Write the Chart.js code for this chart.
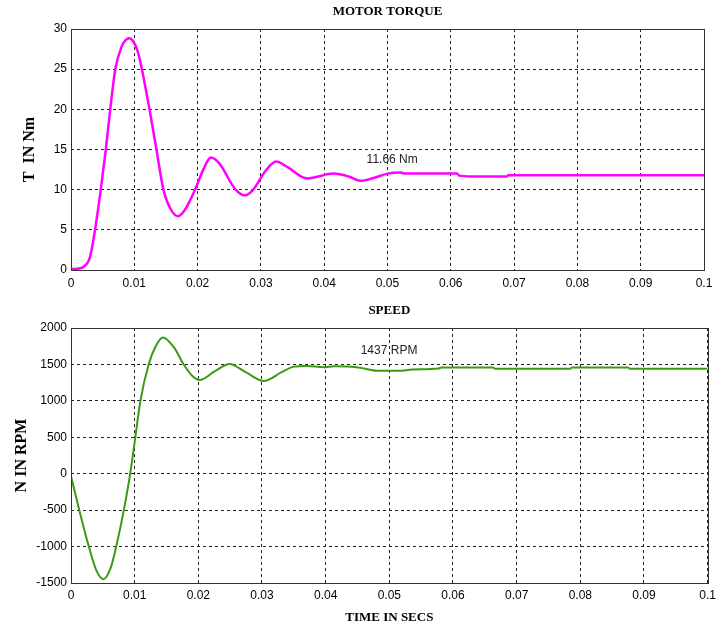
<!DOCTYPE html>
<html>
<head>
<meta charset="utf-8">
<script src="https://cdn.jsdelivr.net/npm/chart.js@4.4.0/dist/chart.umd.min.js"></script>
<style>
  body { margin: 0; background: #fff; }
  .panel { position: absolute; left: 0; }
</style>
</head>
<body>
<div class="panel" style="top:0"><canvas id="torque" width="721" height="300"></canvas></div>
<div class="panel" style="top:300px"><canvas id="speed" width="721" height="326"></canvas></div>
<script>
// time axis ticks (seconds)
const timeTicks = [0, 0.01, 0.02, 0.03, 0.04, 0.05, 0.06, 0.07, 0.08, 0.09, 0.1];
const timeTickLabels = ["0", "0.01", "0.02", "0.03", "0.04", "0.05", "0.06", "0.07", "0.08", "0.09", "0.1"];

// motor torque
const torqueTime = [0, 0.001, 0.002, 0.003, 0.0038, 0.0047, 0.0055, 0.0062, 0.007, 0.008, 0.0086,
  0.0092, 0.0098, 0.0105, 0.0112, 0.0124, 0.0135, 0.0146, 0.0158, 0.0169, 0.018, 0.0196,
  0.0209, 0.0221, 0.0234, 0.026, 0.0275, 0.0288, 0.0306, 0.0324, 0.0342, 0.0373, 0.0415,
  0.044, 0.0457, 0.0478, 0.05, 0.052, 0.0528, 0.061, 0.0613, 0.0633, 0.0688, 0.0691, 0.1];
const torqueNm = [0.1, 0.15, 0.4, 1.6, 5, 10, 15, 20, 25, 27.8, 28.6,
  28.85, 28.5, 27.3, 25, 20, 15, 10, 7.5, 6.7, 7.5, 10,
  12.5, 14.0, 13.3, 10, 9.3, 10, 12.2, 13.5, 12.8, 11.4, 12.0,
  11.6, 11.1, 11.45, 12.0, 12.15, 12.0, 12.0, 11.75, 11.65, 11.65, 11.8, 11.8];
const torqueTicks = [0, 5, 10, 15, 20, 25, 30];

// rotor speed
const speedTime = [0, 0.0013, 0.0028, 0.004, 0.0051, 0.0062, 0.0071, 0.0083, 0.0093, 0.0101,
  0.0109, 0.0122, 0.0133, 0.01445, 0.0162, 0.0177, 0.0192, 0.0202, 0.0225, 0.0249,
  0.0275, 0.0303, 0.033, 0.035, 0.037, 0.0397, 0.0413, 0.0454, 0.0468, 0.0481,
  0.0515, 0.0536, 0.0577, 0.0582, 0.0663, 0.0666, 0.0784, 0.0787, 0.0875, 0.0878, 0.1];
const speedRpm = [-30, -500, -1000, -1330, -1447, -1300, -1000, -500, 0, 500,
  1000, 1500, 1750, 1871, 1730, 1500, 1330, 1286, 1400, 1507,
  1390, 1272, 1390, 1470, 1480, 1460, 1475, 1455, 1430, 1412,
  1412, 1430, 1444, 1458, 1458, 1440, 1440, 1458, 1458, 1440, 1440];
const speedTicks = [-1500, -1000, -500, 0, 500, 1000, 1500, 2000];

// labels written on the plots
const torqueNote = { t: 0.0467, v: 13.7, text: "11.66 Nm" };
const speedNote = { t: 0.0455, v: 1690, text: "1437 RPM" };

const SANS = "'Liberation Sans', Arial, sans-serif";
const SERIF = "'Liberation Serif', 'Times New Roman', serif";

// frame, plot title and the note text
const panelPlugin = {
  id: "panel",
  afterDraw(chart, args, opts) {
    const { ctx, chartArea: a, scales } = chart;
    ctx.save();
    ctx.strokeStyle = "#333";
    ctx.lineWidth = 1;
    ctx.setLineDash([]);
    ctx.strokeRect(Math.round(a.left) + 0.5, Math.round(a.top) + 0.5,
      Math.round(a.right - a.left), Math.round(a.bottom - a.top));

    ctx.fillStyle = "#000";
    ctx.font = "bold 13px " + SERIF;
    ctx.textAlign = "center";
    ctx.textBaseline = "middle";
    ctx.fillText(opts.title, (a.left + a.right) / 2, opts.titleY);

    ctx.font = "12px " + SANS;
    ctx.fillStyle = "#222";
    ctx.textAlign = "left";
    ctx.fillText(opts.note.text, scales.x.getPixelForValue(opts.note.t),
      scales.y.getPixelForValue(opts.note.v));
    ctx.restore();
  },
};

function makePoints(xs, ys) {
  return xs.map((x, i) => ({ x: x, y: ys[i] }));
}

function makeChart(id, cfg) {
  return new Chart(document.getElementById(id), {
    type: "line",
    data: {
      datasets: [
        {
          data: makePoints(cfg.xs, cfg.ys),
          borderColor: cfg.color,
          borderWidth: cfg.lineWidth,
          pointRadius: 0,
          cubicInterpolationMode: "monotone",
        },
      ],
    },
    plugins: [panelPlugin],
    options: {
      responsive: false,
      animation: false,
      layout: { padding: cfg.padding },
      plugins: {
        legend: { display: false },
        tooltip: { enabled: false },
        panel: { title: cfg.title, titleY: cfg.titleY, note: cfg.note },
      },
      scales: {
        x: {
          type: "linear",
          min: 0,
          max: 0.1,
          afterBuildTicks: (scale) => {
            scale.ticks = timeTicks.map((v) => ({ value: v }));
          },
          afterFit: (scale) => {
            scale.height = cfg.xHeight;
          },
          ticks: {
            padding: cfg.xPad,
            color: "#000",
            font: { size: 12, family: SANS },
            maxRotation: 0,
            callback: (v, i) => timeTickLabels[i],
          },
          grid: { color: "#222", lineWidth: 1, drawTicks: false },
          border: { display: false, dash: [3, 3] },
          title: cfg.xTitle
            ? {
                display: true,
                text: cfg.xTitle,
                color: "#000",
                font: { size: 13, weight: "bold", family: SERIF },
                padding: { top: 0, bottom: 1 },
              }
            : { display: false },
        },
        y: {
          min: cfg.yTicks[0],
          max: cfg.yTicks[cfg.yTicks.length - 1],
          afterBuildTicks: (scale) => {
            scale.ticks = cfg.yTicks.map((v) => ({ value: v }));
          },
          afterFit: (scale) => {
            scale.width = 71;
          },
          ticks: {
            padding: 4,
            color: "#000",
            font: { size: 12, family: SANS },
            callback: (v) => String(v),
          },
          grid: { color: "#222", lineWidth: 1, drawTicks: false },
          border: { display: false, dash: [3, 3] },
          title: {
            display: true,
            text: cfg.yTitle,
            color: "#000",
            font: { size: 16, weight: "bold", family: SERIF },
            padding: { top: cfg.yTitlePad, bottom: 0 },
          },
        },
      },
    },
  });
}

makeChart("torque", {
  xs: torqueTime,
  ys: torqueNm,
  color: "#ff00ff",
  lineWidth: 2.5,
  yTicks: torqueTicks,
  yTitle: "T  IN Nm",
  yTitlePad: 20,
  title: "MOTOR TORQUE",
  titleY: 12,
  note: torqueNote,
  padding: { top: 29, right: 17, left: 0, bottom: 0 },
  xHeight: 30,
  xPad: 6,
});

makeChart("speed", {
  xs: speedTime,
  ys: speedRpm,
  color: "#3a9a12",
  lineWidth: 2,
  yTicks: speedTicks,
  yTitle: "N IN RPM",
  yTitlePad: 12,
  xTitle: "TIME IN SECS",
  title: "SPEED",
  titleY: 11,
  note: speedNote,
  padding: { top: 28, right: 11, left: 0, bottom: 0 },
  xHeight: 43,
  xPad: 5,
});
</script>
</body>
</html>
